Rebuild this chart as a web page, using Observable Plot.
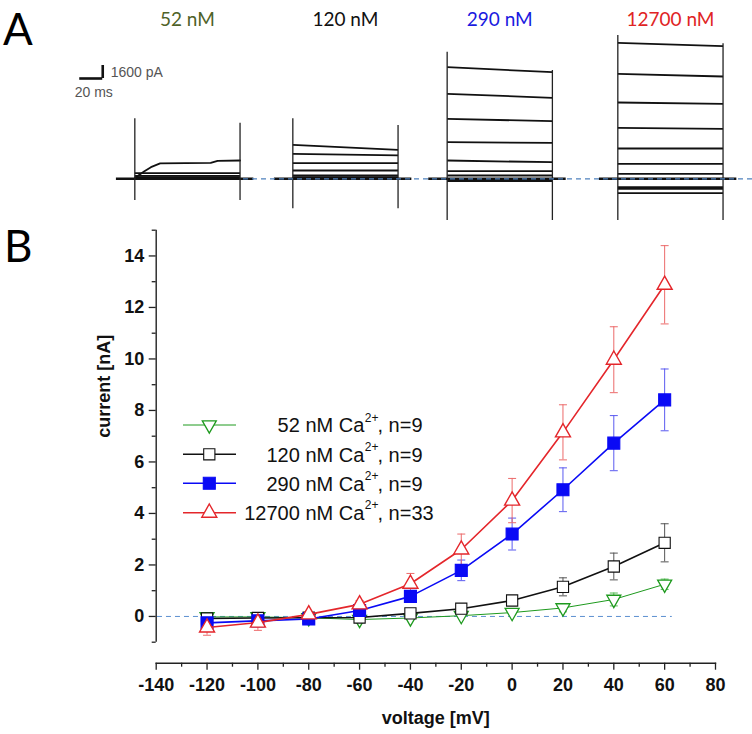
<!DOCTYPE html>
<html><head><meta charset="utf-8">
<script src="https://cdn.jsdelivr.net/npm/d3@7"></script>
<script src="https://cdn.jsdelivr.net/npm/@observablehq/plot@0.6"></script>
<style>
html,body{margin:0;padding:0;background:#fff;}
#page{position:relative;width:752px;height:734px;overflow:hidden;background:#fff;}
#panelA{position:absolute;left:0;top:0;}
#panelB{position:absolute;left:0;top:200px;}
</style>
</head><body>
<div id="page"><div id="panelA"></div><div id="panelB"></div></div>
<script>
// ---------------- DATA: panel B (I-V relationship) ----------------
const voltages = [-120, -100, -80, -60, -40, -20, 0, 20, 40, 60];
const i52    = [-0.02, -0.02, -0.05, -0.12, -0.06, 0.03, 0.15, 0.33, 0.66, 1.25];
const e52    = [0.10, 0.10, 0.08, 0.06, 0.05, 0.06, 0.08, 0.15, 0.25, 0.20];
const i120   = [-0.08, -0.06, -0.05, -0.04, 0.12, 0.30, 0.62, 1.15, 1.94, 2.86];
const e120   = [0.05, 0.05, 0.05, 0.05, 0.08, 0.10, 0.15, 0.35, 0.52, 0.74];
const i290   = [-0.25, -0.17, -0.10, 0.23, 0.78, 1.79, 3.20, 4.92, 6.73, 8.41];
const e290   = [0.10, 0.10, 0.08, 0.10, 0.15, 0.40, 0.62, 0.85, 1.07, 1.20];
const i12700 = [-0.43, -0.24, 0.08, 0.47, 1.27, 2.60, 4.50, 7.15, 9.97, 12.88];
const e12700 = [0.30, 0.30, 0.10, 0.15, 0.40, 0.60, 0.86, 1.07, 1.28, 1.52];
const legendNames = ["52 nM Ca", "120 nM Ca", "290 nM Ca", "12700 nM Ca"];
const legendN = [", n=9", ", n=9", ", n=9", ", n=33"];
const xMajor = [-140, -120, -100, -80, -60, -40, -20, 0, 20, 40, 60, 80];
const xMinor = [-130, -110, -90, -70, -50, -30, -10, 10, 30, 50, 70];
const yMajor = [0, 2, 4, 6, 8, 10, 12, 14];
const yMinor = [-1, 1, 3, 5, 7, 9, 11, 13, 15];

// ---------------- DATA: panel A (current traces, pA) ----------------
const concs = ["52 nM", "120 nM", "290 nM", "12700 nM"];
const sweepLevels = [
  [[690, 690], [370, 370], [200, 200], [90, 90]],
  [[4180, 3570], [3075, 2870], [1920, 1920], [1020, 1020], [405, 405], [200, 200]],
  [[13730, 13110], [10455, 9960], [7380, 7085], [4500, 4430], [2250, 2040], [935, 935], [405, 405], [-270, -270]],
  [[16730, 16310], [12915, 12580], [9385, 9225], [6270, 6150], [3730, 3730], [1845, 1845], [615, 615], [-1030, -1030], [-1230, -1230], [-1770, -1770]]
];
const riseT = [0, 8, 14, 22, 66, 72, 91.5];          // ms, 52 nM largest sweep
const riseI = [100, 900, 1430, 1900, 1950, 2200, 2250]; // pA
const spikeOn  = [[7380, -2670], [7380, -3690], [15570, -5130], [17630, -5130]];
const spikeOff = [[6840, -2670], [6560, -3690], [13320, -5130], [16600, -5130]];
const pulseMs = 91.5;
const scaleBarMs = 20, scaleBarPA = 1600;

// ---------------- LAYOUT / STYLE ----------------
const onsetMs = [116.8, 254.2, 388.4, 536.8];
const concColors = ["#4f6228", "#111111", "#1a1ae0", "#e02424"];
const sbCorner = {t: 88.9, i: 12337};

const pathTriUp = {draw(c, s){const r=Math.sqrt(s/Math.PI); c.moveTo(0,-1.16*r); c.lineTo(r,0.6*r); c.lineTo(-r,0.6*r); c.closePath();}};
const pathTriDown = {draw(c, s){const r=Math.sqrt(s/Math.PI); c.moveTo(0,1.16*r); c.lineTo(r,-0.6*r); c.lineTo(-r,-0.6*r); c.closePath();}};
const pathSquare = {draw(c, s){const r=Math.sqrt(s/Math.PI); c.moveTo(-r,-r); c.lineTo(r,-r); c.lineTo(r,r); c.lineTo(-r,r); c.closePath();}};
const pathCap = {draw(c, s){const r=Math.sqrt(s/Math.PI); c.moveTo(-r,0); c.lineTo(r,0);}};

const series = [
  {vals: i52, errs: e52, color: "#1e9a1e", err: "#55bb55", sym: pathTriDown, r: 7, fill: "white", lw: 1.0, sw: 1.3},
  {vals: i120, errs: e120, color: "#111111", err: "#555555", sym: pathSquare, r: 5.6, fill: "white", lw: 1.6, sw: 1.1},
  {vals: i290, errs: e290, color: "#0a0af5", err: "#5a5af0", sym: pathSquare, r: 6, fill: "#0a0af5", lw: 1.6, sw: 1.1},
  {vals: i12700, errs: e12700, color: "#e4262b", err: "#ec6a6a", sym: pathTriUp, r: 7.5, fill: "white", lw: 1.6, sw: 1.4}
];

// ---------------- PANEL A ----------------
const sweepRows = sweepLevels.flatMap((lv, g) => lv.map(([a, b]) => ({g, a, b})));
const riseRows = riseT.map((t, k) => ({t: onsetMs[0] + t, i: riseI[k]}));
const spikeRows = concs.flatMap((c, g) => [
  {t: onsetMs[g], hi: spikeOn[g][0], lo: spikeOn[g][1]},
  {t: onsetMs[g] + pulseMs, hi: spikeOff[g][0], lo: spikeOff[g][1]}
]);
const baseRows = concs.map((c, g) => ({g}));
const pxPerMs = 1.15, pAPerPx = 123, baseLinePx = 178.3, hA = 225;

const marksA = [
  Plot.ruleY(baseRows, {y: 0, x1: d => onsetMs[d.g] - 16, x2: d => onsetMs[d.g] + pulseMs + 12, stroke: "#111", strokeWidth: 2.6}),
  Plot.link(sweepRows, {x1: d => onsetMs[d.g], x2: d => onsetMs[d.g] + pulseMs, y1: "a", y2: "b", stroke: "#111", strokeWidth: 1.8}),
  Plot.line(riseRows, {x: "t", y: "i", stroke: "#111", strokeWidth: 1.8}),
  Plot.ruleX(spikeRows, {x: "t", y1: "lo", y2: "hi", stroke: "#222", strokeWidth: 1.3}),
  Plot.ruleY([0], {x1: onsetMs[0] + pulseMs + 3, x2: 752 / pxPerMs, stroke: "#4f81bd", strokeWidth: 1.3, strokeDasharray: "5,4"}),
  Plot.ruleY([sbCorner.i], {x1: sbCorner.t - scaleBarMs, x2: sbCorner.t, stroke: "#111", strokeWidth: 2.6}),
  Plot.ruleX([sbCorner.t], {y1: sbCorner.i, y2: sbCorner.i + scaleBarPA, stroke: "#111", strokeWidth: 2.6}),
  Plot.text([`${scaleBarPA} pA`], {x: sbCorner.t, y: sbCorner.i, dx: 8, dy: -6, textAnchor: "start", fill: "#555", fontSize: 14, fontFamily: "Liberation Sans, Arial"}),
  Plot.text([`${scaleBarMs} ms`], {x: sbCorner.t, y: sbCorner.i, dx: -9, dy: 14, fill: "#555", fontSize: 14, fontFamily: "Liberation Sans, Arial"})
];
concs.forEach((c, g) => {
  marksA.push(Plot.text([c], {x: onsetMs[g] + pulseMs / 2, frameAnchor: "top", dy: 12, fill: concColors[g], fontSize: 19, fontFamily: "Lato, Open Sans, sans-serif"}));
});

const svgA = Plot.plot({
  width: 752, height: hA, margin: 0,
  x: {domain: [0, 752 / pxPerMs], range: [0, 752], axis: null},
  y: {domain: [-(hA - baseLinePx) * pAPerPx, baseLinePx * pAPerPx], range: [hA, 0], axis: null},
  marks: marksA
});
d3.select(svgA).append("text").attr("x", 3).attr("y", 45).attr("text-anchor", "start").attr("font-family", "Lato, Open Sans, sans-serif").attr("font-size", 44).attr("fill", "#000").text("A");
document.getElementById("panelA").appendChild(svgA);

// ---------------- PANEL B ----------------
const marksB = [
  Plot.ruleY([0], {x1: -139.5, x2: 63, stroke: "#5b8fd0", strokeWidth: 1, strokeDasharray: "5,4"})
];
series.forEach(s => {
  const rows = voltages.map((v, i) => ({v, y: s.vals[i], e: s.errs[i]}));
  marksB.push(Plot.ruleX(rows, {x: "v", y1: d => d.y - d.e, y2: d => d.y + d.e, stroke: s.err, strokeWidth: 1}));
  marksB.push(Plot.dot(rows, {x: "v", y: d => d.y + d.e, symbol: pathCap, r: 4, stroke: s.err, strokeWidth: 1, fill: "none"}));
  marksB.push(Plot.dot(rows, {x: "v", y: d => d.y - d.e, symbol: pathCap, r: 4, stroke: s.err, strokeWidth: 1, fill: "none"}));
});
series.forEach(s => {
  const rows = voltages.map((v, i) => ({v, y: s.vals[i]}));
  marksB.push(Plot.line(rows, {x: "v", y: "y", stroke: s.color, strokeWidth: s.lw}));
  marksB.push(Plot.dot(rows, {x: "v", y: "y", symbol: s.sym, r: s.r, stroke: s.color, fill: s.fill, strokeWidth: s.sw}));
});
marksB.push(
  Plot.frame({anchor: "bottom", stroke: "#222", strokeWidth: 1.4}),
  Plot.ruleX([-140], {y1: -1, y2: 15, stroke: "#222", strokeWidth: 1.4}),
  Plot.axisY({ticks: yMajor, anchor: "left", tickSize: 7, tickPadding: 5, tickFormat: d => String(d), label: null, strokeWidth: 1.3, stroke: "#222", fill: "#111"}),
  Plot.axisY({ticks: yMinor, anchor: "left", tickSize: 4, tickFormat: () => "", label: null, strokeWidth: 1.3, stroke: "#222"}),
  Plot.axisX({ticks: xMajor, anchor: "bottom", tickSize: 7, tickPadding: 8, tickFormat: d => String(d), label: null, strokeWidth: 1.3, stroke: "#222", fill: "#111"}),
  Plot.axisX({ticks: xMinor, anchor: "bottom", tickSize: 4, tickFormat: () => "", label: null, strokeWidth: 1.3, stroke: "#222"}),
  Plot.text(["voltage [mV]"], {frameAnchor: "bottom", dy: 61, fontSize: 18, fontWeight: "bold", fill: "#111"}),
  Plot.text(["current [nA]"], {frameAnchor: "left", dx: -52, dy: -9, rotate: -90, fontSize: 18, fontWeight: "bold", fill: "#111"})
);

const svgB = Plot.plot({
  width: 752, height: 534,
  marginLeft: 155.7, marginRight: 37, marginTop: 29.7, marginBottom: 71.3,
  style: {fontFamily: "Liberation Sans, Arial, sans-serif", fontSize: "18px", fontWeight: "bold", background: "transparent"},
  x: {domain: [-140, 80], range: [155.7, 715]},
  y: {domain: [-1, 15], range: [441.7, 29.7]},
  marks: marksB
});
const gB = d3.select(svgB);
gB.append("text").attr("x", 4).attr("y", 62).attr("text-anchor", "start").attr("font-family", "Lato, Open Sans, sans-serif").attr("font-size", 44).attr("font-weight", "normal").attr("fill", "#000").text("B");

// legend (order: 52, 120, 290, 12700)
const legY = [225, 254.3, 283.3, 312.7];
const leg = gB.append("g").attr("font-family", "Liberation Sans, Arial, sans-serif").attr("font-weight", "normal").attr("fill", "#111").attr("text-anchor", "start");
series.forEach((s, k) => {
  const y = legY[k];
  leg.append("line").attr("x1", 183).attr("x2", 236).attr("y1", y).attr("y2", y).attr("stroke", s.color).attr("stroke-width", s.lw);
  leg.append("path").attr("transform", `translate(209.3,${y})`).attr("d", d3.symbol(s.sym, s.r * s.r * Math.PI)()).attr("fill", s.fill).attr("stroke", s.color).attr("stroke-width", s.sw);
  leg.append("text").attr("x", 364.3).attr("y", y + 7.2).attr("text-anchor", "end").attr("font-size", 20).text(legendNames[k]);
  leg.append("text").attr("x", 364.8).attr("y", y - 3.4).attr("text-anchor", "start").attr("font-size", 12).text("2+");
  leg.append("text").attr("x", 377.5).attr("y", y + 7.2).attr("text-anchor", "start").attr("font-size", 20).text(legendN[k]);
});
document.getElementById("panelB").appendChild(svgB);
</script>
</body></html>
